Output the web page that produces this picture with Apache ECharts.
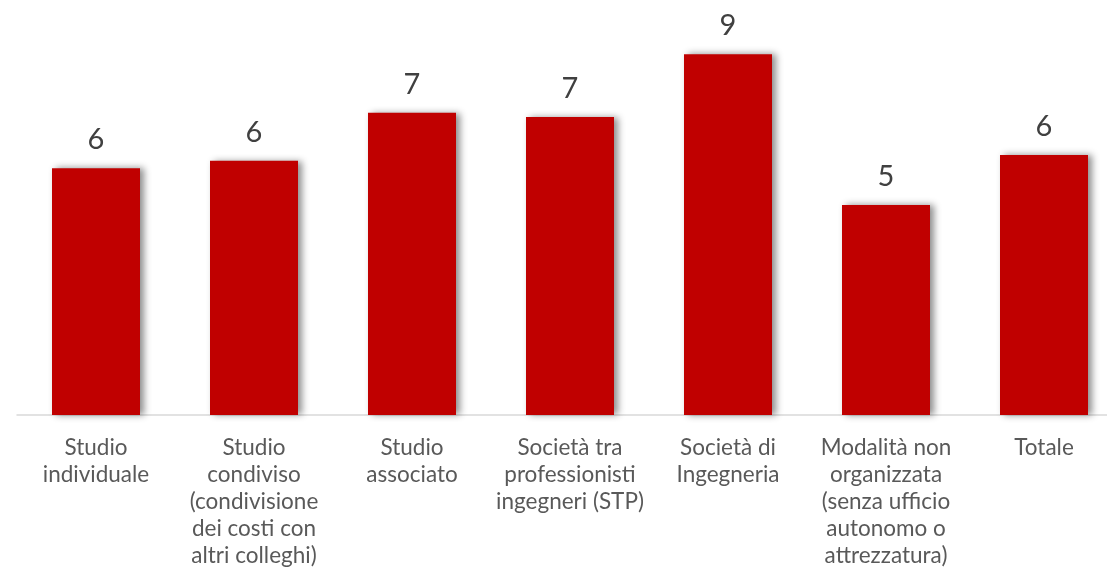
<!DOCTYPE html>
<html><head><meta charset="utf-8">
<script src="https://cdn.jsdelivr.net/npm/echarts@6/dist/echarts.min.js"></script>
<style>html,body{margin:0;padding:0;background:#fff}#c{width:1107px;height:576px}</style>
</head><body><div id="c"></div>
<script>
const categories = ["Studio\nindividuale","Studio\ncondiviso\n(condivisione\ndei costi con\naltri colleghi)","Studio\nassociato","Società tra\nprofessionisti\ningegneri (STP)","Società di\nIngegneria","Modalità non\norganizzata\n(senza ufficio\nautonomo o\nattrezzatura)","Totale"];
const values = [6.02, 6.20, 7.37, 7.27, 8.80, 5.12, 6.34];
const chart = echarts.init(document.getElementById('c'));
chart.setOption({
  animation:false,
  grid:{left:17,width:1106,top:5,height:410,containLabel:false,outerBoundsMode:'none'},
  xAxis:{type:'category',data:categories,
    axisLine:{lineStyle:{color:'#d9d9d9',width:1.5}},axisTick:{show:false},
    axisLabel:{interval:0,color:'#595959',fontFamily:'Lato',fontSize:22.5,lineHeight:27,margin:19}},
  yAxis:{type:'value',min:0,max:10,show:false,splitLine:{show:false}},
  series:[{type:'bar',data:values,barWidth:88,
    itemStyle:{color:'#C00000',shadowColor:'rgba(0,0,0,0.45)',shadowBlur:7,shadowOffsetX:4,shadowOffsetY:0},
    label:{show:true,position:'top',distance:14,color:'#404040',fontFamily:'Lato',fontSize:29,
      formatter:p=>Math.round(p.value)}}]
});
</script></body></html>
